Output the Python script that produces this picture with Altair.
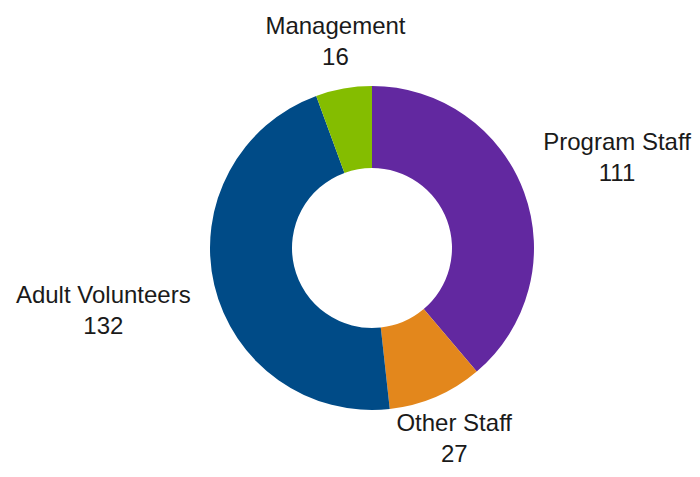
import altair as alt
import pandas as pd

# Data
categories = ["Program Staff", "Other Staff", "Adult Volunteers", "Management"]
values = [111, 27, 132, 16]
colors = ["#6228A0", "#E3871C", "#004B87", "#84BD00"]

# Layout (label distance from centre, per slice)
label_radius = [261, 208, 276, 209]

df = pd.DataFrame({
    "category": categories,
    "value": values,
    "order": list(range(len(categories))),
    "label_r": label_radius,
})

CX, CY = 364, 240

arcs = alt.Chart(df).mark_arc(innerRadius=80, outerRadius=162, x=CX, y=CY).encode(
    theta=alt.Theta("value:Q", stack=True),
    order=alt.Order("order:Q"),
    color=alt.Color("category:N", scale=alt.Scale(domain=categories, range=colors), legend=None),
)

labels = alt.Chart(df).transform_window(
    cum="sum(value)", sort=[alt.SortField("order")], frame=[None, 0]
).transform_joinaggregate(
    total="sum(value)"
).transform_calculate(
    ang="2*PI*(datum.cum - datum.value/2)/datum.total",
    px=f"{CX} + datum.label_r*sin(datum.ang)",
    py=f"{CY} - datum.label_r*cos(datum.ang)",
    label="[datum.category, format(datum.value, 'd')]",
).mark_text(
    font="Liberation Sans", fontSize=24, lineHeight=31, dy=-15.5,
    align="center", baseline="middle", color="#1a1a1a"
).encode(
    x=alt.X("px:Q", scale=None),
    y=alt.Y("py:Q", scale=None),
    text=alt.Text("label:N"),
)

chart = alt.layer(arcs, labels).properties(
    width=684, height=461, padding=0, background="white",
    autosize=alt.AutoSizeParams(type="none")
).configure_view(stroke=None)

chart.save("out.html", embed_options={"renderer": "svg", "actions": False})
